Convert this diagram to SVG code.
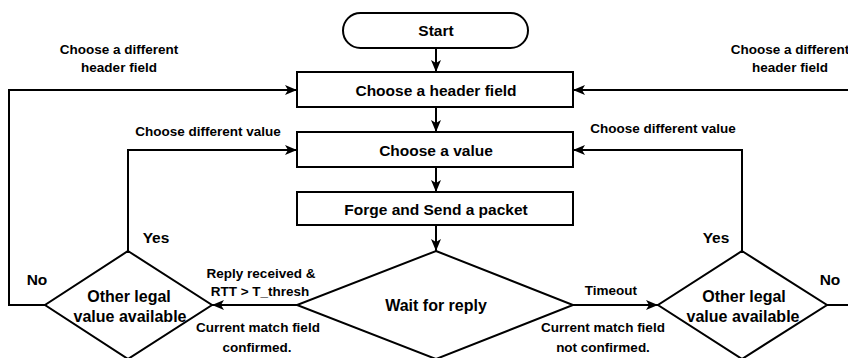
<svg xmlns="http://www.w3.org/2000/svg" width="848" height="358" viewBox="0 0 848 358">
<defs>
<marker id="arr" viewBox="0 0 12 10" refX="12" refY="5" markerWidth="12" markerHeight="10" markerUnits="userSpaceOnUse" orient="auto">
<path d="M0,0 L12,5 L0,10 L3,5 Z" fill="#000"/>
</marker>
<style>
.box{fill:#fff;stroke:#000;stroke-width:2}
.ln{fill:none;stroke:#000;stroke-width:2}
.t{font-family:"Liberation Sans",Arial,sans-serif;font-weight:bold;text-anchor:middle;fill:#000}
.m{font-size:15.5px}
.d{font-size:16px}
.s{font-size:13.5px}
</style>
</defs>
<rect width="848" height="358" fill="#fff"/>
<g id="connectors">
<path class="ln" d="M436,48 V72" marker-end="url(#arr)"/>
<path class="ln" d="M436,107 V132" marker-end="url(#arr)"/>
<path class="ln" d="M436,167 V192" marker-end="url(#arr)"/>
<path class="ln" d="M436,225 V251" marker-end="url(#arr)"/>
<path class="ln" d="M45,305 H9 V90 H297" marker-end="url(#arr)"/>
<path class="ln" d="M128,251 V150 H297" marker-end="url(#arr)"/>
<path class="ln" d="M297,305 H212" marker-end="url(#arr)"/>
<path class="ln" d="M573,305 H658" marker-end="url(#arr)"/>
<path class="ln" d="M742,251 V150 H573" marker-end="url(#arr)"/>
<path class="ln" d="M827,305 H860 V90 H573" marker-end="url(#arr)"/>
<text class="t s" x="119" y="54">Choose a different</text>
<text class="t s" x="119" y="72">header field</text>
<text class="t s" x="208" y="136">Choose different value</text>
<text class="t s" x="790" y="54">Choose a different</text>
<text class="t s" x="790" y="72">header field</text>
<text class="t s" x="663" y="133">Choose different value</text>
<text class="t m" x="156" y="243">Yes</text>
<text class="t m" x="716" y="243">Yes</text>
<text class="t m" x="37" y="285">No</text>
<text class="t m" x="830" y="285">No</text>
<text class="t s" x="261" y="278">Reply received &amp;</text>
<text class="t s" x="260" y="296">RTT &gt; T_thresh</text>
<text class="t s" x="258" y="332">Current match field</text>
<text class="t s" x="257" y="352">confirmed.</text>
<text class="t s" x="611" y="295">Timeout</text>
<text class="t s" x="603" y="332">Current match field</text>
<text class="t s" x="603" y="352">not confirmed.</text>
</g>
<g id="start">
<rect class="box" x="343" y="13" width="185" height="35" rx="17.5"/>
<text class="t m" x="436" y="36">Start</text>
</g>
<g id="header">
<rect class="box" x="297" y="72" width="276" height="35"/>
<text class="t m" x="436" y="96">Choose a header field</text>
</g>
<g id="value">
<rect class="box" x="297" y="132" width="276" height="35"/>
<text class="t m" x="436" y="156">Choose a value</text>
</g>
<g id="forge">
<rect class="box" x="297" y="192" width="276" height="33"/>
<text class="t m" x="436" y="215">Forge and Send a packet</text>
</g>
<g id="wait">
<polygon class="box" points="436,251 573,305 436,359 297,305"/>
<text class="t d" x="436" y="311">Wait for reply</text>
</g>
<g id="legal-left">
<polygon class="box" points="128,251 212,305 128,359 45,305"/>
<text class="t d" x="129" y="302">Other legal</text>
<text class="t d" x="130" y="322">value available</text>
</g>
<g id="legal-right">
<polygon class="box" points="742,251 827,305 742,359 658,305"/>
<text class="t d" x="744" y="302">Other legal</text>
<text class="t d" x="743" y="322">value available</text>
</g>
</svg>
